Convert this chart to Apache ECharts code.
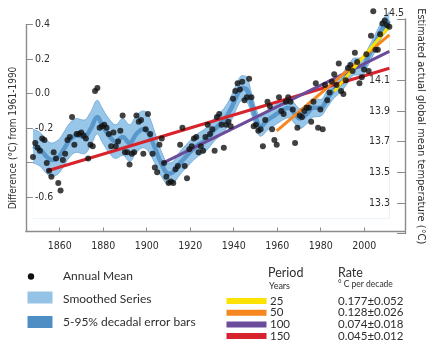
<!DOCTYPE html>
<html>
<head>
<meta charset="utf-8">
<script src="https://cdn.jsdelivr.net/npm/echarts@6/dist/echarts.min.js"></script>
<style>
  html, body { margin: 0; padding: 0; background: #ffffff; }
  #chart { width: 438px; height: 346px; }
</style>
</head>
<body>
<div id="chart"></div>
<script>
// Global annual mean temperature, anomalies (°C) from the 1961-1990 mean
const firstYear = 1850;
const annualAnomaly = [
  -0.40, -0.31, -0.34, -0.36, -0.28, -0.29, -0.44, -0.49, -0.53, -0.37,
  -0.41, -0.57, -0.62, -0.42, -0.38, -0.29, -0.27, -0.14, -0.32, -0.25,
  -0.25, -0.24, -0.26, -0.28, -0.41, -0.32, -0.33,  0.03,  0.05, -0.21,
  -0.20, -0.19, -0.21, -0.25, -0.33, -0.24, -0.33, -0.30, -0.23, -0.13,
  -0.37, -0.37, -0.45, -0.38, -0.37, -0.13, -0.17, -0.16, -0.38, -0.22,
  -0.12, -0.25, -0.38, -0.47, -0.50, -0.32, -0.28, -0.44, -0.53, -0.57,
  -0.56, -0.57, -0.48, -0.46, -0.32, -0.21, -0.46, -0.54, -0.35, -0.33,
  -0.28, -0.27, -0.37, -0.33, -0.36, -0.27, -0.19, -0.25, -0.22, -0.36,
  -0.14, -0.12, -0.19, -0.34, -0.19, -0.17, -0.20, -0.02,  0.03,  0.08,
   0.04,  0.09, -0.03, -0.01,  0.11, -0.01, -0.20, -0.19, -0.23, -0.22,
  -0.33, -0.16, -0.04, -0.07, -0.22, -0.29, -0.32, -0.01, -0.10, -0.12,
  -0.04, -0.01, -0.04, -0.09, -0.31, -0.21, -0.13, -0.14, -0.10, -0.08,
  -0.08, -0.17, -0.04,  0.08, -0.21, -0.09, -0.22,  0.07, -0.03,  0.02,
   0.09,  0.14,  0.07,  0.21,  0.03,  0.01,  0.10,  0.18,  0.20,  0.16,
   0.28,  0.22,  0.08,  0.12,  0.17,  0.27,  0.16,  0.39,  0.55,  0.30,
   0.30,  0.40,  0.47,  0.49,  0.46,  0.45
];
// 1961-1990 mean global temperature (°C)
const baseline = 14.0;

// Smoothed decadal series and its 5-95% range (half width, °C)
const smoothYears = [
  1850, 1853, 1856, 1858, 1861, 1863, 1866, 1869, 1872, 1875, 1878, 1880, 1883, 1886,
  1889, 1892, 1895, 1898, 1900, 1903, 1906, 1909, 1911, 1914, 1917, 1921, 1925, 1929,
  1933, 1936, 1939, 1941, 1943, 1945, 1947, 1949, 1952, 1955, 1958, 1961, 1964, 1966,
  1969, 1972, 1975, 1978, 1981, 1984, 1987, 1990, 1993, 1996, 1998, 2000, 2002, 2005
];
const smoothAnomaly = [
  -0.33, -0.35, -0.40, -0.42, -0.40, -0.36, -0.29, -0.26, -0.27, -0.22, -0.14, -0.19, -0.26, -0.30,
  -0.27, -0.31, -0.25, -0.22, -0.24, -0.34, -0.45, -0.51, -0.50, -0.44, -0.39, -0.33, -0.29, -0.22,
  -0.16, -0.09,  0.01,  0.05,  0.04, -0.05, -0.15, -0.20, -0.16, -0.13, -0.10, -0.08, -0.12, -0.15,
  -0.12, -0.08, -0.08, -0.02,  0.04,  0.08,  0.14,  0.19,  0.19,  0.26,  0.32,  0.38,  0.44,  0.49
];
const smoothError = [
  0.11, 0.11, 0.11, 0.11, 0.11, 0.11, 0.11, 0.11, 0.11, 0.11, 0.11, 0.11, 0.11, 0.11,
  0.12, 0.12, 0.12, 0.12, 0.12, 0.10, 0.08, 0.07, 0.07, 0.075, 0.075, 0.075, 0.075, 0.075,
  0.075, 0.08, 0.08, 0.08, 0.08, 0.07, 0.065, 0.065, 0.065, 0.065, 0.065, 0.065, 0.065, 0.065,
  0.065, 0.06, 0.055, 0.055, 0.055, 0.055, 0.055, 0.055, 0.055, 0.055, 0.055, 0.055, 0.055, 0.055
];

// Linear trends over the last 25, 50, 100 and 150 years
const periods = [25, 50, 100, 150];
const periodStart = [1981, 1956, 1906, 1856];
const periodEnd = 2005;
const rates = [0.177, 0.128, 0.074, 0.045];       // °C per decade
const rateErrors = [0.052, 0.026, 0.018, 0.012];
const trendCentre = [14.24, 14.083, 13.922, 13.843]; // fitted value at mid-period (°C)
const trendColors = ['#fde100', '#f6861f', '#6b4c9b', '#d7232b'];

// Axis labels
const yearTicks = [1860, 1880, 1900, 1920, 1940, 1960, 1980, 2000];
const anomalyTicks = ['0.4', '0.2', '0.0', '-0.2', '-0.6'];
const absoluteTicks = ['14.5', '14.1', '13.9', '13.7', '13.5', '13.3'];

const axisGrey = '#8c8c8c';
const textDark = '#2e2e2e';
const narrow = '"Liberation Sans Narrow", "DejaVu Sans Condensed", "Roboto", sans-serif';
const legendFont = 'Lato, "Open Sans", sans-serif';
const bandFill = '#98c6e8';
const bandEdge = '#6aa4d4';

// Build series data
const dots = annualAnomaly.map((a, i) => [firstYear + i, baseline + a]);
const smoothLine = smoothYears.map((y, i) => [y, baseline + smoothAnomaly[i]]);
const bandHigh = smoothYears.map((y, i) => [y, baseline + smoothAnomaly[i] + smoothError[i]]);
const bandLow = smoothYears.map((y, i) => [y, baseline + smoothAnomaly[i] - smoothError[i]]);

// Trend lines: straight lines through the mid-period value with the stated rate
const trendSeries = [];
for (let k = periods.length - 1; k >= 0; k--) {
  const s = periodStart[k], e = periodEnd, mid = (s + e) / 2;
  const perYear = rates[k] / 10;
  trendSeries.push({
    name: periods[k] + ' years',
    type: 'line',
    xAxisIndex: 1, yAxisIndex: 1, z: 6,
    data: [[s, trendCentre[k] - perYear * (mid - s)], [e, trendCentre[k] + perYear * (e - mid)]],
    symbol: 'none', clip: false,
    lineStyle: { color: trendColors[k], width: 3 },
    silent: true
  });
}

function fmtTenth(v) {
  return (Math.round(v * 10) / 10).toFixed(1);
}

// Legend drawn below the plot
const legendItems = [];
legendItems.push({ type: 'circle', shape: { cx: 31, cy: 276.5, r: 3.2 }, style: { fill: '#111' } });
legendItems.push({ type: 'text', x: 63, y: 276.5, style: { text: 'Annual Mean', fill: textDark, font: '12px ' + legendFont, verticalAlign: 'middle' } });
legendItems.push({ type: 'rect', shape: { x: 27.5, y: 291.5, width: 25, height: 12 }, style: { fill: '#94c3e6' } });
legendItems.push({ type: 'text', x: 63, y: 299, style: { text: 'Smoothed Series', fill: textDark, font: '12px ' + legendFont, verticalAlign: 'middle' } });
legendItems.push({ type: 'rect', shape: { x: 27.5, y: 316, width: 25, height: 12 }, style: { fill: '#4f8ec4' } });
legendItems.push({ type: 'text', x: 63, y: 322.5, style: { text: '5-95% decadal error bars', fill: textDark, font: '12px ' + legendFont, verticalAlign: 'middle' } });
legendItems.push({ type: 'text', x: 268, y: 272.5, style: { text: 'Period', fill: textDark, font: '12.5px ' + legendFont, verticalAlign: 'middle' } });
legendItems.push({ type: 'text', x: 269, y: 286.5, style: { text: 'Years', fill: textDark, font: '9px ' + legendFont, verticalAlign: 'middle' } });
legendItems.push({ type: 'text', x: 338, y: 272.5, style: { text: 'Rate', fill: textDark, font: '12.5px ' + legendFont, verticalAlign: 'middle' } });
legendItems.push({ type: 'text', x: 338, y: 284.5, style: { text: '° C per decade', fill: textDark, font: '8.5px ' + legendFont, verticalAlign: 'middle' } });
periods.forEach((p, k) => {
  const cy = 301 + k * 11.7;
  legendItems.push({ type: 'rect', shape: { x: 226.5, y: cy - 3, width: 40, height: 6 }, style: { fill: trendColors[k] } });
  legendItems.push({ type: 'text', x: 270, y: cy, style: { text: String(p), fill: textDark, font: '11.5px ' + legendFont, verticalAlign: 'middle' } });
  legendItems.push({ type: 'text', x: 338, y: cy, style: { text: rates[k].toFixed(3) + '\u00b1' + rateErrors[k].toFixed(3), fill: textDark, font: '11.5px ' + legendFont, verticalAlign: 'middle' } });
});

const chart = echarts.init(document.getElementById('chart'), null, { renderer: 'canvas' });
chart.setOption({
  backgroundColor: '#ffffff',
  animation: false,
  grid: [
    { left: 24, right: 33, top: 24.5, bottom: 114.5 },
    { left: 24, right: 33, top: 19, bottom: 112.5 }
  ],
  xAxis: [
    {
      gridIndex: 0, type: 'value', min: 1844.44, max: 2018.76, splitNumber: 8, z: 5,
      axisLine: { onZero: false, lineStyle: { color: axisGrey, width: 1.4 } },
      axisTick: { inside: true, length: 4, lineStyle: { color: axisGrey, width: 1 } },
      axisLabel: {
        margin: 9, color: textDark, fontFamily: narrow, fontSize: 10.5,
        formatter: v => (yearTicks.indexOf(Math.round(v)) >= 0 && Math.abs(v - Math.round(v)) < 1e-6) ? String(Math.round(v)) : ''
      },
      splitLine: { show: false }
    },
    { gridIndex: 1, type: 'value', min: 1846.1, max: 2011.8, show: false }
  ],
  yAxis: [
    {
      gridIndex: 0, type: 'value', position: 'left', min: -0.8, max: 0.4, interval: 0.2, z: 5,
      name: 'Difference (\u00b0C) from 1961-1990', nameLocation: 'middle', nameRotate: 90, nameGap: 6,
      nameTextStyle: { color: textDark, fontFamily: narrow, fontSize: 10, padding: [0, 20, 0, 0] },
      axisLine: { show: true, onZero: false, lineStyle: { color: axisGrey, width: 1.4 } },
      axisTick: { show: true, inside: true, length: 7, lineStyle: { color: axisGrey, width: 1 } },
      axisLabel: {
        inside: true, margin: 9, color: textDark, fontFamily: narrow, fontSize: 10.5,
        formatter: v => { const t = fmtTenth(v); return anomalyTicks.indexOf(t) >= 0 ? t : ''; }
      },
      splitLine: { show: false }
    },
    {
      gridIndex: 1, type: 'value', position: 'right', min: 13.1, max: 14.5, interval: 0.2, z: 5,
      name: 'Estimated actual global mean temperature (\u00b0C)', nameLocation: 'middle', nameRotate: -90, nameGap: 10,
      nameTextStyle: { color: textDark, fontFamily: narrow, fontSize: 11 },
      axisLine: { show: true, onZero: false, lineStyle: { color: axisGrey, width: 1.4 } },
      axisTick: { show: true, inside: true, length: 8, lineStyle: { color: axisGrey, width: 1 } },
      axisLabel: {
        inside: true, margin: 1, color: textDark, fontFamily: narrow, fontSize: 10.5,
        verticalAlignMaxLabel: 'bottom',
        formatter: v => {
          const t = fmtTenth(v);
          if (absoluteTicks.indexOf(t) < 0) return '';
          return t === absoluteTicks[0] ? '{top|' + t + '}' : '{n|' + t + '}';
        },
        rich: {
          top: { fontFamily: narrow, fontSize: 10.5, color: textDark },
          n: { padding: [0, 14, 0, 0], fontFamily: narrow, fontSize: 10.5, color: textDark }
        }
      },
      splitLine: { show: false }
    }
  ],
  series: [
    {
      name: '5-95% decadal error bars', type: 'line', xAxisIndex: 1, yAxisIndex: 1, z: 2,
      data: bandHigh, smooth: 0.4, symbol: 'none', clip: false,
      lineStyle: { color: bandEdge, width: 0.8 },
      areaStyle: { color: bandFill, opacity: 1, origin: 13.2 }, silent: true
    },
    {
      name: 'band floor', type: 'line', xAxisIndex: 1, yAxisIndex: 1, z: 3,
      data: bandLow, smooth: 0.4, symbol: 'none', clip: false,
      lineStyle: { color: bandEdge, width: 0.8 },
      areaStyle: { color: '#ffffff', opacity: 1, origin: 13.2 }, silent: true
    },
    {
      name: 'Smoothed Series', type: 'line', xAxisIndex: 1, yAxisIndex: 1, z: 4,
      data: smoothLine, smooth: 0.4, symbol: 'none', clip: false,
      lineStyle: { color: '#5a98cc', width: 4.5 }, silent: true
    },
    ...trendSeries,
    {
      name: 'Annual Mean', type: 'scatter', xAxisIndex: 1, yAxisIndex: 1, z: 8,
      data: dots, symbol: 'circle', symbolSize: 6, clip: false,
      itemStyle: { color: '#111111' }, silent: true
    }
  ],
  graphic: { elements: legendItems }
});
</script>
</body>
</html>
